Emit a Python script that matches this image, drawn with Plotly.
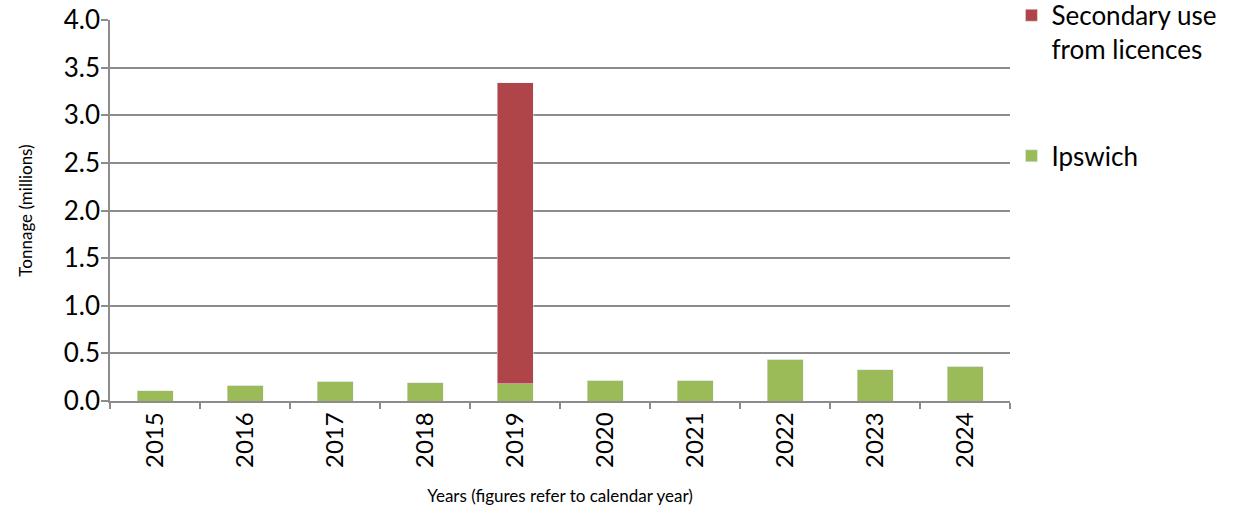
import plotly.graph_objects as go

years = ["2015", "2016", "2017", "2018", "2019", "2020", "2021", "2022", "2023", "2024"]
ipswich = [0.11, 0.165, 0.205, 0.19, 0.18, 0.22, 0.22, 0.44, 0.33, 0.365]
secondary = [0, 0, 0, 0, 3.16, 0, 0, 0, 0, 0]
y_ticks = [0.0, 0.5, 1.0, 1.5, 2.0, 2.5, 3.0, 3.5, 4.0]

FONT = "Lato, 'Open Sans', sans-serif"
GRID = "#8c8c8c"

fig = go.Figure()
fig.add_trace(go.Bar(x=years, y=ipswich, name="Ipswich", marker_color="#9BBB59",
                     legendgroup="a", legendrank=2))
fig.add_trace(go.Bar(x=years, y=secondary, name="Secondary use<br>from licences",
                     marker_color="#AF4449", legendgroup="b", legendrank=1))

fig.update_layout(
    barmode="stack",
    bargap=0.6,
    width=1238, height=509,
    margin=dict(l=110, r=228, t=20, b=108, autoexpand=False),
    paper_bgcolor="white", plot_bgcolor="white",
    font=dict(family=FONT, color="black"),
    legend=dict(x=1.0016, y=1.074, yref="paper", xanchor="left", yanchor="top",
                traceorder="grouped", tracegroupgap=70,
                font=dict(size=26, family=FONT), valign="top",
                itemwidth=30),
    xaxis=dict(
        type="category", tickangle=-90, tickfont=dict(size=24), automargin=False,
        showline=True, linecolor=GRID, linewidth=1.5,
        ticks="outside", ticklen=6, tickcolor=GRID, tickwidth=1.5,
        tickson="boundaries", showgrid=False,
        title=dict(text="Years (figures refer to calendar year)", font=dict(size=17), standoff=23),
    ),
    yaxis=dict(
        range=[0, 4.0005], tickvals=y_ticks, ticktext=[f"{v:.1f}" for v in y_ticks],
        tickfont=dict(size=26), automargin=False, ticklabeloverflow="allow",
        ticklabelstandoff=-4,
        showline=True, linecolor=GRID, linewidth=1.5,
        ticks="outside", ticklen=7, tickcolor=GRID, tickwidth=1.5,
        showgrid=True, gridcolor=GRID, gridwidth=1.5, zeroline=False,
        title=dict(text="Tonnage (millions)", font=dict(size=17), standoff=27),
    ),
)

fig.write_html("out.html", config={"displayModeBar": False},
               post_script="document.body.style.margin='0';")
